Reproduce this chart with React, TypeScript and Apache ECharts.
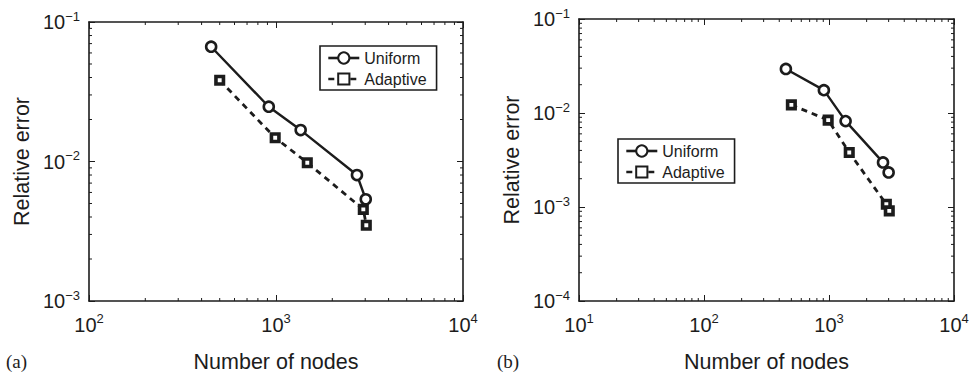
import React, { useEffect, useRef } from "react";
import * as echarts from "echarts";

// ---- data ----
const nodesUniformA = [450, 915, 1355, 2710, 3020];
const errUniformA = [0.0665, 0.0247, 0.0168, 0.008, 0.00536];
const nodesAdaptiveA = [500, 990, 1470, 2930, 3040];
const errAdaptiveA = [0.0382, 0.0148, 0.0098, 0.00454, 0.00349];

const nodesUniformB = [452, 910, 1358, 2705, 3000];
const errUniformB = [0.0294, 0.0175, 0.0082, 0.00298, 0.00233];
const nodesAdaptiveB = [500, 985, 1452, 2875, 3035];
const errAdaptiveB = [0.0122, 0.0084, 0.0038, 0.00107, 0.00091];

const seriesNames = ["Uniform", "Adaptive"];
const xTitle = "Number of nodes";
const yTitle = "Relative error";
const panelLabels = ["(a)", "(b)"];

// axis ranges
const xRangeA = [100, 10000];
const yRangeA = [0.001, 0.1];
const xRangeB = [10, 10000];
const yRangeB = [0.0001, 0.1];

const SANS = "'Liberation Sans', Arial, Helvetica, sans-serif";
const SERIF = "'Liberation Serif', 'Times New Roman', serif";
const INK = "#1c1c1c";

function zip(a: number[], b: number[]) {
  return a.map((v, i) => [v, b[i]]);
}

function minorValues(range: number[]) {
  const out: number[] = [];
  const e0 = Math.round(Math.log10(range[0]));
  const e1 = Math.round(Math.log10(range[1]));
  for (let e = e0; e < e1; e++) {
    for (let k = 2; k <= 9; k++) out.push(k * Math.pow(10, e));
  }
  return out;
}

function supLabel(v: number) {
  const e = Math.round(Math.log10(v));
  const s = e < 0 ? "\u2212" + Math.abs(e) : String(e);
  return `{b|10}{s|${s}}`;
}

const rich = {
  b: { fontSize: 20, fontFamily: SANS, color: INK },
  s: { fontSize: 13, fontFamily: SANS, color: INK, padding: [0, 0, 12, 0] },
};

function axesFor(grid: number, xr: number[], yr: number[]) {
  const common = {
    gridIndex: grid,
    type: "log" as const,
    logBase: 10,
    axisLine: { show: true, onZero: false, lineStyle: { color: INK, width: 1.6 } },
    axisTick: { show: true, inside: true, length: 6, lineStyle: { color: INK, width: 1 } },
    splitLine: { show: false },
    minorTick: { show: false },
  };
  const xAxes = [
    {
      ...common,
      position: "bottom",
      min: xr[0],
      max: xr[1],
      axisLabel: { show: true, margin: 11, fontSize: 20, fontFamily: SANS, formatter: supLabel, rich },
      name: xTitle,
      nameLocation: "middle",
      nameGap: 50,
      nameTextStyle: { fontSize: 21.5, fontFamily: SANS, color: INK },
    },
    {
      ...common,
      position: "top",
      min: xr[0],
      max: xr[1],
      axisLabel: { show: false },
    },
  ];
  const yAxes = [
    {
      ...common,
      position: "left",
      min: yr[0],
      max: yr[1],
      axisLabel: { show: true, margin: 9, fontSize: 20, fontFamily: SANS, formatter: supLabel, rich },
      name: yTitle,
      nameLocation: "middle",
      nameGap: 56,
      nameTextStyle: { fontSize: 21.5, fontFamily: SANS, color: INK },
    },
    {
      ...common,
      position: "right",
      min: yr[0],
      max: yr[1],
      axisLabel: { show: false },
    },
  ];
  return { xAxes, yAxes };
}

function minorTickSeries(xIdx: number, yIdx: number, xr: number[], yr: number[]) {
  const len = 3;
  const style = { stroke: INK, lineWidth: 1 };
  const xs = minorValues(xr).map((v) => [v, yr[0]]);
  const ys = minorValues(yr).map((v) => [xr[0], v]);
  return [
    {
      type: "custom",
      xAxisIndex: xIdx,
      yAxisIndex: yIdx,
      silent: true,
      clip: false,
      data: xs,
      encode: { x: 0, y: 1 },
      renderItem: (params: any, api: any) => {
        const v = api.value(0);
        const b = api.coord([v, yr[0]]);
        const t = api.coord([v, yr[1]]);
        return {
          type: "group",
          children: [
            { type: "line", shape: { x1: b[0], y1: b[1], x2: b[0], y2: b[1] - len }, style },
            { type: "line", shape: { x1: t[0], y1: t[1], x2: t[0], y2: t[1] + len }, style },
          ],
        };
      },
    },
    {
      type: "custom",
      xAxisIndex: xIdx,
      yAxisIndex: yIdx,
      silent: true,
      clip: false,
      data: ys,
      encode: { x: 0, y: 1 },
      renderItem: (params: any, api: any) => {
        const v = api.value(1);
        const l = api.coord([xr[0], v]);
        const r = api.coord([xr[1], v]);
        return {
          type: "group",
          children: [
            { type: "line", shape: { x1: l[0], y1: l[1], x2: l[0] + len, y2: l[1] }, style },
            { type: "line", shape: { x1: r[0], y1: r[1], x2: r[0] - len, y2: r[1] }, style },
          ],
        };
      },
    },
  ];
}

function dataSeries(xIdx: number, yIdx: number, u: number[][], a: number[][]) {
  return [
    {
      name: seriesNames[0],
      type: "line",
      xAxisIndex: xIdx,
      yAxisIndex: yIdx,
      data: u,
      symbol: "circle",
      symbolSize: 10,
      lineStyle: { color: INK, width: 2.4, type: "solid" },
      itemStyle: { color: "#ffffff", borderColor: INK, borderWidth: 2.6 },
      z: 5,
    },
    {
      name: seriesNames[1],
      type: "line",
      xAxisIndex: xIdx,
      yAxisIndex: yIdx,
      data: a,
      symbol: "rect",
      symbolSize: 7.5,
      lineStyle: { color: INK, width: 2.8, type: [6, 5] },
      itemStyle: { color: "#ffffff", borderColor: INK, borderWidth: 3.6 },
      z: 4,
    },
  ];
}

export default function App() {
  const ref = useRef<HTMLDivElement>(null);
  useEffect(() => {
    if (!ref.current) return;
    const chart = echarts.init(ref.current, null, { renderer: "svg" });
    const A = axesFor(0, xRangeA, yRangeA);
    const B = axesFor(1, xRangeB, yRangeB);
    const legendCommon = {
      orient: "vertical",
      data: seriesNames,
      borderColor: INK,
      borderWidth: 1.6,
      borderRadius: 0,
      backgroundColor: "#fff",
      padding: [4, 10, 3, 7],
      itemWidth: 31,
      itemHeight: 14,
      itemGap: 5,
      textStyle: { fontSize: 16, fontFamily: SANS, color: INK, lineHeight: 16 },
      lineStyle: { width: 2.6, color: INK },
      selectedMode: false,
    };
    chart.setOption({
      animation: false,
      backgroundColor: "#fff",
      grid: [
        { left: 89, top: 22, width: 374, height: 279, containLabel: false, outerBoundsMode: "none" },
        { left: 579, top: 19, width: 375, height: 282, containLabel: false, outerBoundsMode: "none" },
      ],
      xAxis: [...A.xAxes, ...B.xAxes.map((x) => ({ ...x, gridIndex: 1 }))],
      yAxis: [...A.yAxes, ...B.yAxes.map((y) => ({ ...y, gridIndex: 1 }))],
      legend: [
        { ...legendCommon, left: 320, top: 46 },
        { ...legendCommon, left: 618, top: 139 },
      ],
      series: [
        ...dataSeries(0, 0, zip(nodesUniformA, errUniformA), zip(nodesAdaptiveA, errAdaptiveA)),
        ...dataSeries(2, 2, zip(nodesUniformB, errUniformB), zip(nodesAdaptiveB, errAdaptiveB)),
        ...minorTickSeries(0, 0, xRangeA, yRangeA),
        ...minorTickSeries(2, 2, xRangeB, yRangeB),
      ],
      graphic: [
        {
          type: "text",
          left: 6,
          top: 352,
          style: { text: panelLabels[0], font: `19px ${SERIF}`, fill: INK },
        },
        {
          type: "text",
          left: 497,
          top: 352,
          style: { text: panelLabels[1], font: `19px ${SERIF}`, fill: INK },
        },
      ],
    });
    return () => chart.dispose();
  }, []);
  return (
    <div
      ref={ref}
      style={{ position: "fixed", left: 0, top: 0, width: 969, height: 373 }}
    />
  );
}
